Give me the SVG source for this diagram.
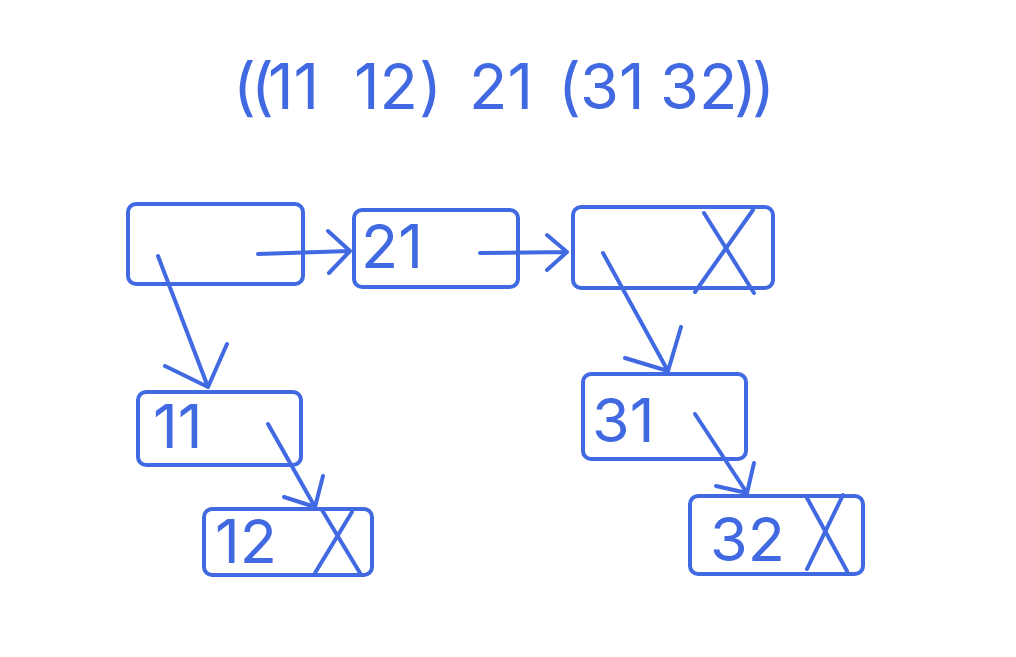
<svg xmlns="http://www.w3.org/2000/svg" width="1016" height="657" viewBox="0 0 1016 657">
<style>
.box{fill:none;stroke:#4169E1;stroke-width:4;}
.ln{fill:none;stroke:#4169E1;stroke-width:4;stroke-linecap:round;stroke-linejoin:round;}
.t{font-family:Inter,"Liberation Sans",sans-serif;font-size:61px;fill:#4169E1;}
.title{font-family:Inter,"Liberation Sans",sans-serif;font-size:63px;fill:#4169E1;}
</style>
<rect width="1016" height="657" fill="#ffffff"/>
<text class="title" y="109"><tspan x="233" letter-spacing="-5">((</tspan><tspan x="268">11</tspan><tspan x="354">12</tspan><tspan x="419">)</tspan><tspan x="469">21</tspan><tspan x="558">(</tspan><tspan x="580">31</tspan><tspan x="660">32</tspan><tspan x="734" letter-spacing="-5">))</tspan></text>
<g id="n-root"><rect class="box" x="128" y="204" width="175" height="80" rx="8"/></g>
<g id="n-21"><rect class="box" x="354" y="210" width="164" height="77" rx="8"/><text class="t" x="361" y="268">21</text></g>
<g id="n-3"><rect class="box" x="573" y="207" width="200" height="81" rx="8"/><line class="ln" x1="704" y1="213" x2="754" y2="293"/><line class="ln" x1="753" y1="210" x2="695" y2="292"/></g>
<g id="n-11"><rect class="box" x="138" y="392" width="163" height="73" rx="8"/><text class="t" x="153" y="448">11</text></g>
<g id="n-12"><rect class="box" x="204" y="509" width="168" height="66" rx="8"/><text class="t" x="215" y="563">12</text><line class="ln" x1="322" y1="510" x2="360" y2="573"/><line class="ln" x1="352" y1="512" x2="315" y2="573"/></g>
<g id="n-31"><rect class="box" x="583" y="374" width="163" height="85" rx="8"/><text class="t" x="592" y="442">31</text></g>
<g id="n-32"><rect class="box" x="690" y="496" width="173" height="78" rx="8"/><text class="t" x="710" y="561">32</text><line class="ln" x1="807" y1="498" x2="847" y2="571"/><line class="ln" x1="843" y1="495" x2="807" y2="569"/></g>
<g id="connectors">
<path class="ln" d="M258 254 L350 251 M328 231 L350 251 L329 273"/>
<path class="ln" d="M480 253 L567 252 M547 235 L567 252 L547 270"/>
<path class="ln" d="M158 256 L208 387 M165 366 L208 387 L227 344"/>
<path class="ln" d="M268 424 L315 507 M284 497 L315 507 L323 476"/>
<path class="ln" d="M603 253 L668 371 M625 358 L668 371 L681 327"/>
<path class="ln" d="M695 414 L747 493 M716 486 L747 493 L754 463"/>
</g>
</svg>
